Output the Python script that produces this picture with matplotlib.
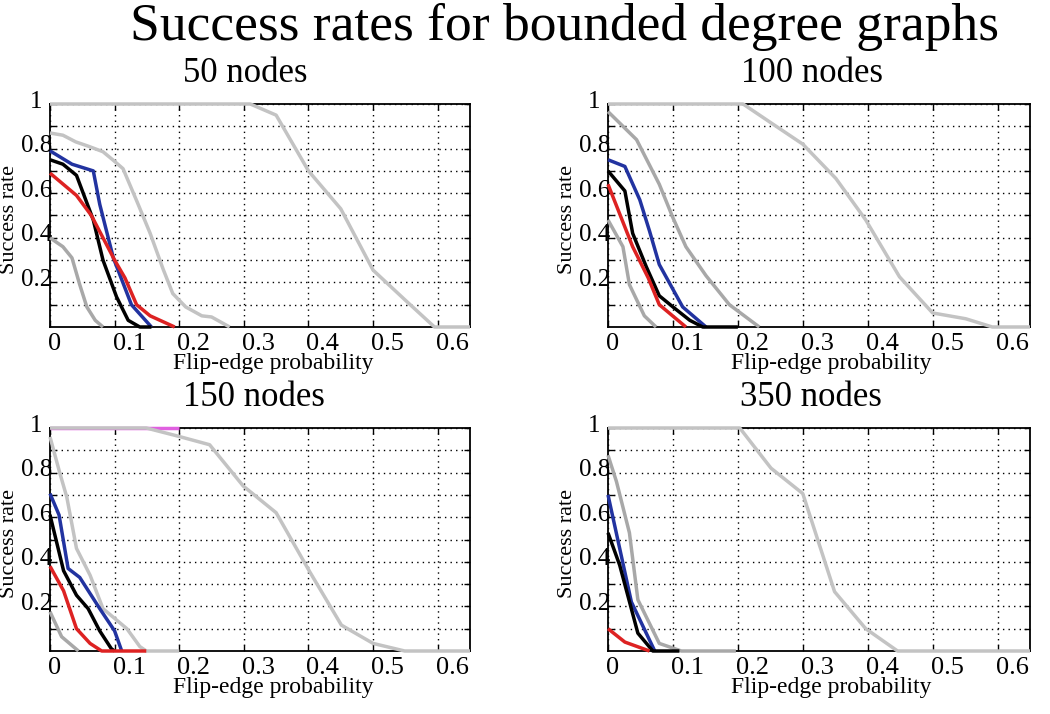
import numpy as np
import matplotlib
matplotlib.use('Agg')
import matplotlib.pyplot as plt
import matplotlib.transforms as mtransforms

plt.rcParams['font.family'] = ['Liberation Serif', 'DejaVu Serif']

# data: (x, y) points per curve, one dict per panel
titles = ['50 nodes', '100 nodes', '150 nodes', '350 nodes']

# 50 nodes
p50_gray_far_x = [0, 0.31, 0.35, 0.40, 0.45, 0.50, 0.55, 0.595, 0.65]
p50_gray_far_y = [1, 1, 0.95, 0.70, 0.53, 0.255, 0.12, 0, 0]
p50_gray_up_x = [0, 0.02, 0.04, 0.06, 0.082, 0.097, 0.113, 0.135, 0.155, 0.175, 0.19, 0.21, 0.235, 0.25, 0.278]
p50_gray_up_y = [0.87, 0.86, 0.83, 0.81, 0.786, 0.75, 0.71, 0.56, 0.42, 0.26, 0.15, 0.09, 0.05, 0.045, 0]
p50_gray_lo_x = [0, 0.02, 0.034, 0.046, 0.057, 0.07, 0.082]
p50_gray_lo_y = [0.40, 0.36, 0.31, 0.19, 0.09, 0.03, 0]
p50_blue_x = [0, 0.034, 0.067, 0.077, 0.098, 0.126, 0.157]
p50_blue_y = [0.79, 0.73, 0.70, 0.55, 0.31, 0.10, 0]
p50_black_x = [0, 0.02, 0.041, 0.067, 0.082, 0.103, 0.121, 0.139, 0.157]
p50_black_y = [0.75, 0.73, 0.68, 0.48, 0.30, 0.135, 0.03, 0, 0]
p50_red_x = [0, 0.041, 0.064, 0.10, 0.116, 0.134, 0.155, 0.193]
p50_red_y = [0.69, 0.59, 0.50, 0.30, 0.22, 0.10, 0.05, 0]

# 100 nodes
p100_gray_far_x = [0, 0.208, 0.259, 0.30, 0.351, 0.397, 0.449, 0.50, 0.551, 0.592, 0.65]
p100_gray_far_y = [1, 1, 0.90, 0.82, 0.666, 0.48, 0.225, 0.063, 0.037, 0, 0]
p100_gray_up_x = [0, 0.044, 0.079, 0.10, 0.12, 0.151, 0.187, 0.233]
p100_gray_up_y = [0.966, 0.84, 0.64, 0.49, 0.36, 0.23, 0.10, 0]
p100_gray_lo_x = [0, 0.023, 0.033, 0.056, 0.074]
p100_gray_lo_y = [0.48, 0.36, 0.19, 0.05, 0]
p100_blue_x = [0, 0.026, 0.049, 0.064, 0.079, 0.115, 0.151]
p100_blue_y = [0.75, 0.72, 0.57, 0.43, 0.28, 0.09, 0]
p100_black_x = [0, 0.026, 0.038, 0.059, 0.079, 0.10, 0.126, 0.146, 0.20]
p100_black_y = [0.70, 0.61, 0.42, 0.27, 0.14, 0.09, 0.03, 0, 0]
p100_red_x = [0, 0.038, 0.062, 0.079, 0.12]
p100_red_y = [0.64, 0.36, 0.22, 0.10, 0]

# 150 nodes
p150_pink_x = [0, 0.20]
p150_pink_y = [1, 1]
p150_gray_far_x = [0, 0.149, 0.196, 0.247, 0.299, 0.35, 0.402, 0.451, 0.50, 0.549, 0.65]
p150_gray_far_y = [1, 1, 0.965, 0.925, 0.74, 0.62, 0.355, 0.116, 0.034, 0, 0]
p150_gray_up_x = [0, 0.015, 0.026, 0.041, 0.062, 0.082, 0.119, 0.139, 0.149, 0.20]
p150_gray_up_y = [0.96, 0.80, 0.69, 0.46, 0.34, 0.19, 0.10, 0.02, 0, 0]
p150_gray_lo_x = [0, 0.018, 0.044]
p150_gray_lo_y = [0.176, 0.064, 0]
p150_blue_x = [0, 0.014, 0.028, 0.046, 0.077, 0.10, 0.111]
p150_blue_y = [0.706, 0.61, 0.37, 0.33, 0.19, 0.09, 0]
p150_black_x = [0, 0.021, 0.041, 0.059, 0.077, 0.095, 0.10]
p150_black_y = [0.61, 0.36, 0.25, 0.19, 0.09, 0.01, 0]
p150_red_x = [0, 0.021, 0.041, 0.062, 0.08, 0.149]
p150_red_y = [0.38, 0.27, 0.10, 0.034, 0, 0]

# 350 nodes
p350_gray_far_x = [0, 0.203, 0.251, 0.30, 0.349, 0.397, 0.446, 0.65]
p350_gray_far_y = [1, 1, 0.82, 0.706, 0.266, 0.10, 0, 0]
p350_gray_up_x = [0, 0.013, 0.033, 0.046, 0.079, 0.113, 0.197]
p350_gray_up_y = [0.878, 0.76, 0.53, 0.23, 0.034, 0, 0]
p350_blue_x = [0, 0.036, 0.072]
p350_blue_y = [0.70, 0.22, 0]
p350_black_x = [0, 0.018, 0.046, 0.069, 0.11]
p350_black_y = [0.53, 0.385, 0.08, 0, 0]
p350_red_x = [0, 0.026, 0.064]
p350_red_y = [0.10, 0.04, 0]

far_gray = '#c3c3c3'
mid_gray = '#a8a8a8'
blue = '#2233a0'
red = '#dd2222'
pink = '#e060e0'

panels = [
    [(p50_gray_far_x, p50_gray_far_y, far_gray), (p50_gray_up_x, p50_gray_up_y, far_gray),
     (p50_gray_lo_x, p50_gray_lo_y, mid_gray), (p50_blue_x, p50_blue_y, blue),
     (p50_black_x, p50_black_y, 'black'), (p50_red_x, p50_red_y, red)],
    [(p100_gray_far_x, p100_gray_far_y, far_gray), (p100_gray_up_x, p100_gray_up_y, mid_gray),
     (p100_gray_lo_x, p100_gray_lo_y, mid_gray), (p100_blue_x, p100_blue_y, blue),
     (p100_black_x, p100_black_y, 'black'), (p100_red_x, p100_red_y, red)],
    [(p150_pink_x, p150_pink_y, pink), (p150_gray_far_x, p150_gray_far_y, far_gray),
     (p150_gray_up_x, p150_gray_up_y, far_gray), (p150_gray_lo_x, p150_gray_lo_y, mid_gray),
     (p150_blue_x, p150_blue_y, blue), (p150_black_x, p150_black_y, 'black'),
     (p150_red_x, p150_red_y, red)],
    [(p350_gray_far_x, p350_gray_far_y, far_gray), (p350_gray_up_x, p350_gray_up_y, mid_gray),
     (p350_blue_x, p350_blue_y, blue), (p350_black_x, p350_black_y, 'black'),
     (p350_red_x, p350_red_y, red)],
]

W, H = 1050, 714
fig = plt.figure(figsize=(W / 100, H / 100), dpi=100)

# axes boxes in pixels: left, top, right, bottom
boxes = [(50, 104, 470, 327), (608, 104, 1030, 327),
         (50, 428, 470, 651), (608, 428, 1030, 651)]
title_pos = [(245, 73), (812, 73), (254, 398), (811, 398)]

xticks = [0, 0.1, 0.2, 0.3, 0.4, 0.5, 0.6]
yticks = [0.1, 0.2, 0.3, 0.4, 0.5, 0.6, 0.7, 0.8, 0.9, 1.0]
ylabels = ['', '0.2', '', '0.4', '', '0.6', '', '0.8', '', '1']

fig.text(564 / W, 1 - 27 / H, 'Success rates for bounded degree graphs',
         ha='center', va='center', fontsize=38.5)

for k, (l, t, r, b) in enumerate(boxes):
    ax = fig.add_axes([l / W, 1 - b / H, (r - l) / W, (b - t) / H])
    for x, y, c in panels[k]:
        ax.plot(x, y, color=c, lw=2.5, clip_on=False, zorder=3,
                solid_capstyle='butt', solid_joinstyle='round')
    ax.set_xlim(0, 0.65)
    ax.set_ylim(0, 1)
    ax.set_xticks(xticks)
    ax.set_xticklabels(['0', '0.1', '0.2', '0.3', '0.4', '0.5', '0.6'])
    ax.set_yticks(yticks)
    ax.set_yticklabels(ylabels)
    ax.grid(True, color='black', linestyle=(0, (1, 3)), linewidth=1.0)
    ax.tick_params(direction='in', length=4, width=1, top=True, right=True,
                   labelsize=19, colors='black')
    ax.tick_params(axis='y', pad=12, labelsize=18)
    ax.tick_params(axis='x', pad=4)
    for lab in ax.get_yticklabels():
        lab.set_horizontalalignment('center')
        lab.set_transform(lab.get_transform() +
                          mtransforms.ScaledTranslation(3 / 100, 5 / 100, fig.dpi_scale_trans))
    for lab in ax.get_xticklabels():
        lab.set_horizontalalignment('left')
        lab.set_transform(lab.get_transform() +
                          mtransforms.ScaledTranslation(-2 / 100, 0, fig.dpi_scale_trans))
    for s in ax.spines.values():
        s.set_linewidth(1.3)
    tx, ty = title_pos[k]
    fig.text(tx / W, 1 - ty / H, titles[k], ha='center', va='center', fontsize=25)
    fig.text((l + 223) / W, 1 - (b + 36) / H, 'Flip-edge probability',
             ha='center', va='center', fontsize=17)
    fig.text((l - 40) / W, 1 - (t + 116) / H, 'Success rate', rotation=90,
             ha='center', va='center', fontsize=16)

plt.savefig('out.png', dpi=100)
